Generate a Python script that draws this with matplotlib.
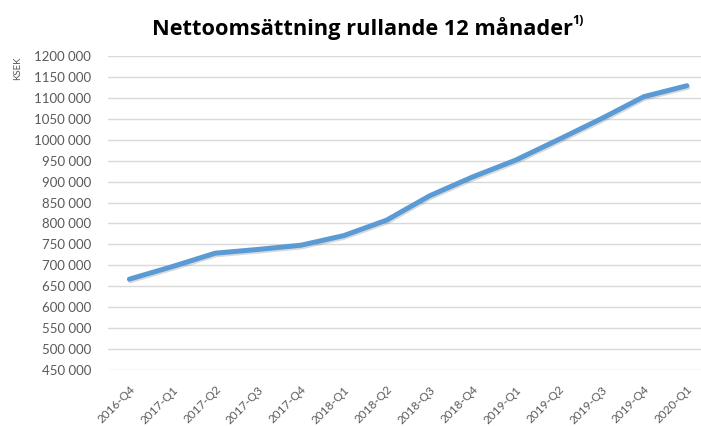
import matplotlib
matplotlib.use("Agg")
import matplotlib.pyplot as plt
import matplotlib.patheffects as pe
from matplotlib.ticker import FuncFormatter, MultipleLocator

# quarters and rolling 12-month net sales (KSEK)
quarters = ["2016-Q4", "2017-Q1", "2017-Q2", "2017-Q3", "2017-Q4",
            "2018-Q1", "2018-Q2", "2018-Q3", "2018-Q4",
            "2019-Q1", "2019-Q2", "2019-Q3", "2019-Q4", "2020-Q1"]
net_sales = [667000, 697000, 729000, 738000, 748000,
             771000, 808000, 866000, 911000,
             951000, 1000000, 1050000, 1103000, 1129000]

title = "Nettoomsättning rullande 12 månader"
note = "1)"
gray = "#595959"

plt.rcParams["font.family"] = ["Lato", "DejaVu Sans"]

fig = plt.figure(figsize=(7.01, 4.26), dpi=100)
ax = fig.add_axes([0.154, 0.1315, 0.846, 0.737])

x = range(len(quarters))
ax.plot(x, net_sales, color="#5B9BD5", lw=3.6, solid_capstyle="round",
        solid_joinstyle="round",
        path_effects=[pe.SimpleLineShadow(offset=(0.6, -1.2), alpha=0.18, shadow_color="#333333"),
                      pe.Normal()])

ax.set_ylim(450000, 1200000)
ax.set_xlim(-0.5, 13.33)
ax.yaxis.set_major_locator(MultipleLocator(50000))
ax.yaxis.set_major_formatter(FuncFormatter(lambda v, p: f"{int(v) // 1000} 000"))
ax.grid(axis="y", color="#D9D9D9", lw=1)
ax.set_axisbelow(True)
for s in ax.spines.values():
    s.set_visible(False)

ax.set_xticks(list(x))
ax.set_xticklabels(quarters, rotation=45, ha="right", rotation_mode="anchor")
ax.tick_params(axis="y", length=0, pad=12, labelsize=9.5, labelcolor=gray)
ax.tick_params(axis="x", length=0, pad=10, labelsize=8.5, labelcolor=gray)

t = fig.text(152 / 701, 0.934, title, ha="left", va="center", fontsize=15.7,
             fontweight="bold", family="Open Sans", color="black")
fig.canvas.draw()
bb = t.get_window_extent()
fig.text(bb.x1 / 701 - 0.001, 0.951, note, ha="left", va="center", fontsize=9,
         fontweight="bold", family="Open Sans", color="black")
fig.text(18 / 701, 1 - 68 / 426, "KSEK", rotation=90, ha="center", va="center",
         fontsize=7, color=gray)

fig.savefig("out.png", dpi=100)
